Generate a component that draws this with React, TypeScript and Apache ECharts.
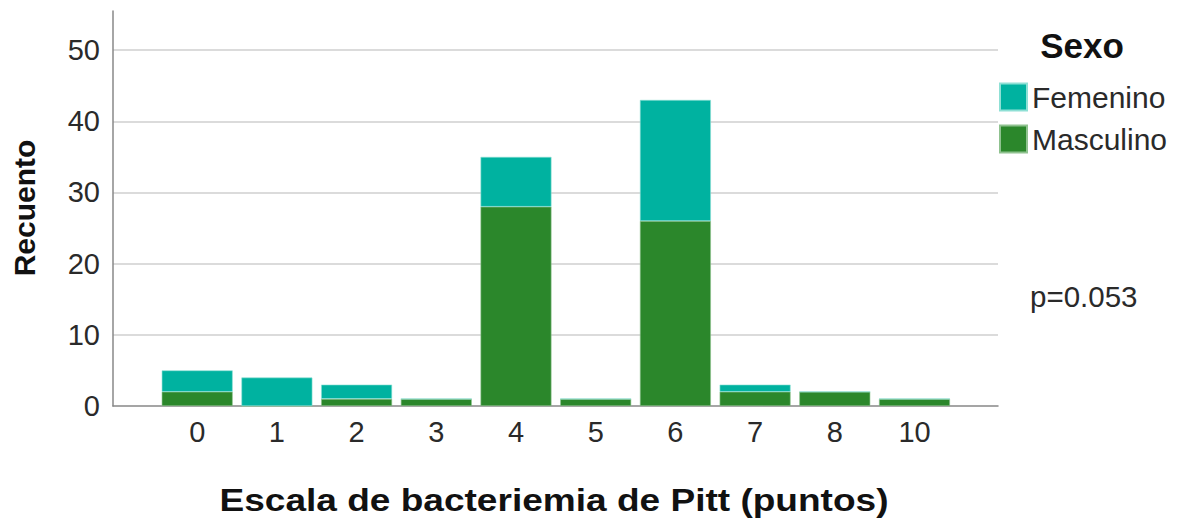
import React, { useEffect, useRef } from "react";
import * as echarts from "echarts";

const categories = ["0", "1", "2", "3", "4", "5", "6", "7", "8", "10"];
const masculino = [2, 0, 1, 1, 28, 1, 26, 2, 2, 1];
const femenino = [3, 4, 2, 0, 7, 0, 17, 1, 0, 0];
const seriesNames = ["Femenino", "Masculino"];
const yTicks = { min: 0, max: 55.5, interval: 10 };

const FONT = "'Liberation Sans', Arial, Helvetica, sans-serif";
const TEAL = "#00b2a0";
const GREEN = "#2b872b";

export default function App() {
  const ref = useRef<HTMLDivElement>(null);
  useEffect(() => {
    if (!ref.current) return;
    const chart = echarts.init(ref.current, null, { renderer: "svg" });
    const top = 11;
    const bottomY = 406;
    const H = 523;
    chart.setOption({
      animation: false,
      backgroundColor: "#ffffff",
      grid: [
        { left: 157.35, right: 1177 - 954.35, top, bottom: H - bottomY },
        { left: 113, right: 1177 - 998, top, bottom: H - bottomY },
      ],
      xAxis: [
        {
          type: "category",
          gridIndex: 0,
          data: categories,
          axisLine: { show: false },
          axisTick: { show: false },
          axisLabel: { fontSize: 29, color: "#2a2a2a", fontFamily: FONT, margin: 11 },
          splitLine: { show: false },
        },
        {
          type: "value",
          gridIndex: 1,
          min: 0,
          max: 1,
          axisLine: { show: true, onZero: false, lineStyle: { color: "#888", width: 1.5 } },
          axisTick: { show: false },
          axisLabel: { show: false },
          splitLine: { show: false },
        },
      ],
      yAxis: [
        {
          type: "value",
          gridIndex: 0,
          min: yTicks.min,
          max: yTicks.max,
          interval: yTicks.interval,
          axisLine: { show: false },
          axisTick: { show: false },
          axisLabel: { show: false },
          splitLine: { show: false },
        },
        {
          type: "value",
          gridIndex: 1,
          min: yTicks.min,
          max: yTicks.max,
          interval: yTicks.interval,
          axisLine: { show: true, lineStyle: { color: "#888", width: 1.5 } },
          axisTick: { show: false },
          axisLabel: {
            fontSize: 29,
            color: "#2a2a2a",
            fontFamily: FONT,
            margin: 13,
            showMaxLabel: false,
            padding: [12, 0, 0, 0],
          },
          splitLine: {
            show: true,
            showMinLine: false,
            showMaxLine: false,
            lineStyle: { color: "#cfcfcf", width: 1.5 },
          },
        },
      ],
      legend: {
        data: seriesNames,
        orient: "vertical",
        left: 999,
        top: 82,
        padding: 0,
        itemWidth: 27,
        itemHeight: 27,
        itemGap: 12,
        icon: "rect",
        textStyle: { fontSize: 30, color: "#2a2a2a", fontFamily: FONT, lineHeight: 27 },
      },
      series: [
        {
          name: "Masculino",
          type: "bar",
          stack: "total",
          xAxisIndex: 0,
          yAxisIndex: 0,
          data: masculino,
          barCategoryGap: "11%",
          itemStyle: { color: GREEN, borderColor: "#8fc28f", borderWidth: 0.6 },
        },
        {
          name: "Femenino",
          type: "bar",
          stack: "total",
          xAxisIndex: 0,
          yAxisIndex: 0,
          data: femenino,
          barCategoryGap: "11%",
          itemStyle: { color: TEAL, borderColor: "#8fe0d5", borderWidth: 0.6 },
        },
      ],
      graphic: [
        {
          type: "text",
          x: 1082,
          y: 45,
          style: {
            text: "Sexo",
            fontSize: 35,
            fontWeight: "bold",
            fontFamily: FONT,
            fill: "#111",
            textAlign: "center",
            textVerticalAlign: "middle",
          },
        },
        {
          type: "text",
          x: 1030,
          y: 296,
          style: {
            text: "p=0.053",
            fontSize: 29.5,
            fontFamily: FONT,
            fill: "#2a2a2a",
            textAlign: "left",
            textVerticalAlign: "middle",
          },
        },
        {
          type: "text",
          x: 554,
          y: 500,
          scaleX: 1.158,
          style: {
            text: "Escala de bacteriemia de Pitt (puntos)",
            fontSize: 32,
            fontWeight: "bold",
            fontFamily: FONT,
            fill: "#111",
            textAlign: "center",
            textVerticalAlign: "middle",
          },
        },
        {
          type: "text",
          x: 24,
          y: 208,
          rotation: Math.PI / 2,
          style: {
            text: "Recuento",
            fontSize: 30,
            fontWeight: "bold",
            fontFamily: FONT,
            fill: "#111",
            textAlign: "center",
            textVerticalAlign: "middle",
          },
        },
      ],
    });
    return () => chart.dispose();
  }, []);
  return (
    <div
      ref={ref}
      style={{ position: "fixed", left: 0, top: 0, width: 1177, height: 523 }}
    />
  );
}
